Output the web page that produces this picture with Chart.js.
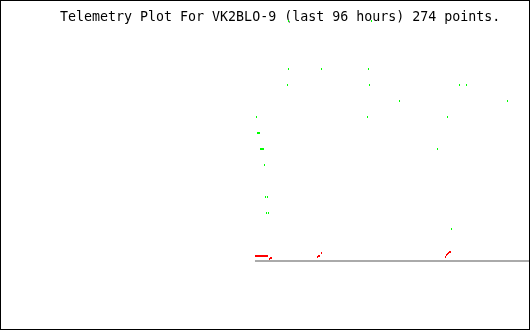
<!DOCTYPE html>
<html>
<head>
<meta charset="utf-8">
<script src="https://cdn.jsdelivr.net/npm/chart.js@4/dist/chart.umd.min.js"></script>
<style>
  body { margin: 0; background: #fff; }
  #box { width: 530px; height: 330px; box-sizing: border-box; border: 1px solid #000; }
  canvas { display: block; }
</style>
</head>
<body>
<div id="box"><canvas id="chart" width="528" height="328"></canvas></div>
<script>
const titleText = "Telemetry Plot For VK2BLO-9 (last 96 hours) 274 points.";

// hours before now / telemetry level
const greenHours = [-49.23, -32.24,
  -49.23, -42.47, -32.85,
  -49.43, -32.65, -14.23, -12.79,
  -26.51, -4.40,
  -55.78, -33.06, -16.68,
  -55.57, -55.37, -55.16,
  -54.96, -54.75, -54.55, -54.35, -18.73,
  -54.14,
  -53.94, -53.53,
  -53.73, -53.32,
  -15.86];
const greenValues = [15, 15,
  12, 12, 12,
  11, 11, 11, 11,
  10, 10,
  9, 9, 9,
  8, 8, 8,
  7, 7, 7, 7, 7,
  6,
  4, 4,
  3, 3,
  2];

const redHours = [-55.98, -55.78, -55.57, -55.37, -55.16, -54.96, -54.75, -54.55,
  -54.35, -54.14, -53.94, -53.73, -53.53, -53.12, -52.91, -52.71,
  -43.29, -43.09, -42.88, -42.47,
  -17.09, -16.89, -16.68, -16.48, -16.27, -16.07];
const redValues = [0.31, 0.31, 0.31, 0.31, 0.31, 0.31, 0.31, 0.31,
  0.31, 0.31, 0.31, 0.31, 0.31, 0.125, 0.19, 0.19,
  0.25, 0.31, 0.31, 0.5,
  0.25, 0.375, 0.44, 0.5, 0.56, 0.56];

const baseStart = -56.09;
const baseEnd = 0;

function mark(color) {
  const c = document.createElement("canvas");
  c.width = 1;
  c.height = 2;
  const g = c.getContext("2d");
  g.fillStyle = color;
  g.fillRect(0, 0, 1, 2);
  return c;
}

const toPts = (xs, ys) => xs.map((x, i) => ({ x, y: ys[i] }));

const crisp = {
  id: "crisp",
  beforeDatasetsDraw(chart) { chart.ctx.imageSmoothingEnabled = false; }
};

new Chart(document.getElementById("chart"), {
  type: "scatter",
  data: {
    datasets: [
      {
        type: "line",
        data: [{ x: baseStart, y: 0 }, { x: baseEnd, y: 0 }],
        borderColor: "#aaaaaa",
        borderWidth: 2,
        pointRadius: 0
      },
      {
        data: toPts(redHours, redValues),
        pointStyle: mark("#ff0000"),
        pointRadius: 1,
        borderWidth: 0
      },
      {
        data: toPts(greenHours, greenValues),
        pointStyle: mark("#00ff00"),
        pointRadius: 1,
        borderWidth: 0
      }
    ]
  },
  options: {
    responsive: false,
    animation: false,
    devicePixelRatio: 1,
    layout: { autoPadding: false, padding: { left: 59, right: 0, top: 4, bottom: 4 } },
    scales: {
      x: { type: "linear", min: -96, max: 0, display: false },
      y: { type: "linear", min: -4, max: 16, display: false }
    },
    plugins: {
      legend: { display: false },
      tooltip: { enabled: false },
      title: {
        display: true,
        text: titleText,
        align: "start",
        color: "#000",
        font: { family: "DejaVu Sans Mono", size: 13.3, weight: "normal", lineHeight: "16px" },
        // title sits over the plot area, like the original
        padding: { top: 4.5, bottom: -20.5 }
      }
    }
  },
  plugins: [crisp]
});
</script>
</body>
</html>
